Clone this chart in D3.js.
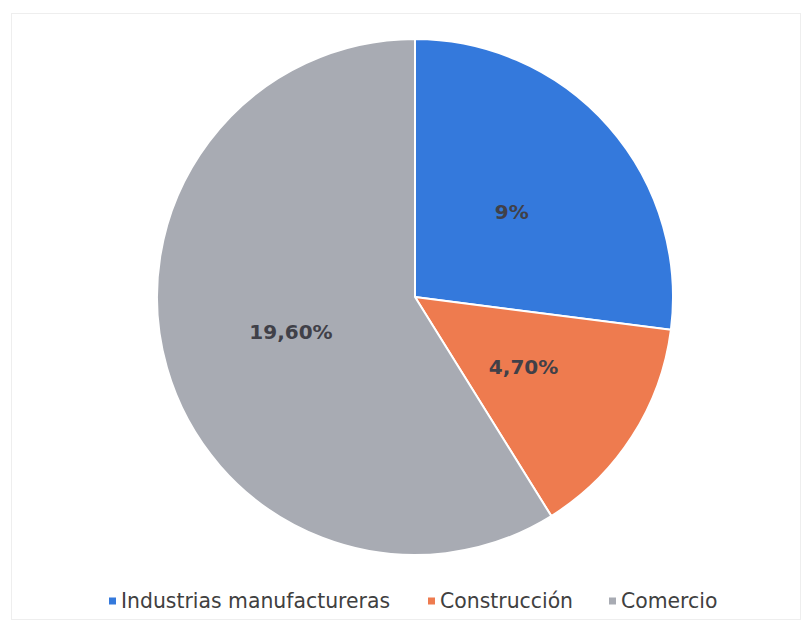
<!DOCTYPE html>
<html>
<head>
<meta charset="utf-8">
<script src="https://cdn.jsdelivr.net/npm/d3@7"></script>
<style>
  body { margin: 0; background: #fff; }
  svg { display: block; }
</style>
</head>
<body>
<div id="chart"></div>
<script>
"use strict";

// data
var categories = ["Industrias manufactureras", "Construcción", "Comercio"];
var values = [9, 4.7, 19.6];
var labels = ["9%", "4,70%", "19,60%"];
var colors = ["#3479dc", "#ee7b4f", "#a8abb3"];

var width = 809, height = 626;
var cx = 415, cy = 297, radius = 258;

var svg = d3.select("#chart")
    .append("svg")
    .attr("width", width)
    .attr("height", height);

// faint chart area border
svg.append("rect")
    .attr("x", 11.5)
    .attr("y", 13.5)
    .attr("width", 789)
    .attr("height", 606)
    .attr("fill", "none")
    .attr("stroke", "#eeeeee")
    .attr("stroke-width", 1);

var data = categories.map((c, i) => ({ cat: c, value: values[i], label: labels[i], color: colors[i] }));

var pie = d3.pie()
    .value(d => d.value)
    .sort(null);

var arc = d3.arc()
    .innerRadius(0)
    .outerRadius(radius);

var g = svg.append("g")
    .attr("transform", `translate(${cx},${cy})`);

var arcs = pie(data);

g.selectAll("path")
    .data(arcs)
    .join("path")
    .attr("d", arc)
    .attr("fill", d => d.data.color)
    .attr("stroke", "#fff")
    .attr("stroke-width", 2);

// slice labels
g.selectAll("text")
    .data(arcs)
    .join("text")
    .attr("transform", d => `translate(${arc.centroid(d)})`)
    .attr("text-anchor", "middle")
    .attr("dy", "0.35em")
    .style("font-family", "DejaVu Sans, sans-serif")
    .style("font-size", "20px")
    .style("font-weight", "bold")
    .style("fill", "#404048")
    .text(d => d.data.label);

// legend
var legendX = [109, 428, 609];
var legendY = 601;

var legend = svg.selectAll(".legend")
    .data(data)
    .join("g")
    .attr("class", "legend")
    .attr("transform", (d, i) => `translate(${legendX[i]},${legendY})`);

legend.append("rect")
    .attr("x", 0)
    .attr("y", -3.5)
    .attr("width", 7)
    .attr("height", 7)
    .attr("fill", d => d.color);

legend.append("text")
    .attr("x", 12)
    .attr("dy", "0.35em")
    .style("font-family", "DejaVu Sans, sans-serif")
    .style("font-size", "20.4px")
    .style("fill", "#404040")
    .text(d => d.cat);
</script>
</body>
</html>
